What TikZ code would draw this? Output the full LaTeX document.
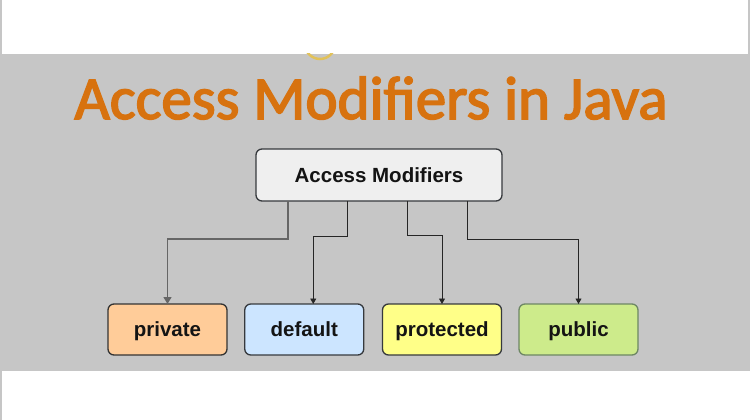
\documentclass[tikz,border=0pt]{standalone}
\usepackage{fontspec}
\setmainfont{Liberation Sans}
\newfontfamily\titlefont[FakeBold=2.6]{Carlito}
\usetikzlibrary{arrows.meta}
\definecolor{bggray}{HTML}{C6C6C6}
\definecolor{titleorange}{HTML}{D7720F}
\definecolor{boxline}{HTML}{36393D}
\definecolor{topfill}{HTML}{EFEFEF}
\definecolor{privfill}{HTML}{FFCC99}
\definecolor{deffill}{HTML}{CCE5FF}
\definecolor{protfill}{HTML}{FFFF88}
\definecolor{pubfill}{HTML}{CDEB8B}
\definecolor{publine}{HTML}{6D8764}
\definecolor{arcyellow}{HTML}{E2C25A}
\tikzset{
  modbox/.style={draw=boxline, line width=1.3pt, rounded corners=6pt,
    minimum width=119pt, minimum height=51pt, inner sep=0pt, outer sep=0pt,
    text height=15pt, text depth=1pt,
    font=\fontsize{20.5}{23}\selectfont\bfseries, text=black!92},
  topbox/.style={modbox, fill=topfill, minimum width=246pt, minimum height=52pt},
  conn/.style={draw=black!85, line width=0.9pt,
    -{Triangle[length=5.5pt,width=6pt]}},
  graycon/.style={draw=black!60, line width=1.2pt,
    -{Triangle[length=7pt,width=8pt]}},
}
\begin{document}
\begin{tikzpicture}[x=1pt,y=-1pt]
  \useasboundingbox (0,0) rectangle (750,420);
  \fill[bggray] (0,0) rectangle (750,420);
  \fill[white] (2,0) rectangle (748,54);
  \fill[white] (2,371) rectangle (750,420);
  \begin{scope}
    \clip (0,54) rectangle (750,70);
    \draw[arcyellow, line width=2.5pt] (320,44) circle[radius=15];
  \end{scope}
  \node[anchor=base, font=\titlefont\fontsize{61}{70}\selectfont, text=titleorange]
    (title) at (371,119) {Access Modifiers in Java};
  \node[topbox] (top) at (379,175) {Access Modifiers};
  \node[modbox, fill=privfill, draw=black!80] (priv) at (167.5,329.5) {private};
  \node[modbox, fill=deffill] (def) at (304.25,329.5) {default};
  \node[modbox, fill=protfill] (prot) at (442,329.5) {protected};
  \node[modbox, fill=pubfill, draw=publine] (pub) at (578.5,329.5) {public};
  \draw[graycon] ([xshift=-91pt]top.south) -- ++(0,38) -| (priv.north);
  \draw[conn] ([xshift=-32pt]top.south) -- ++(0,35) -| ([xshift=9pt]def.north);
  \draw[conn] ([xshift=28pt]top.south) -- ++(0,34) -| (prot.north);
  \draw[conn] ([xshift=88pt]top.south) -- ++(0,38) -| (pub.north);
\end{tikzpicture}
\end{document}
